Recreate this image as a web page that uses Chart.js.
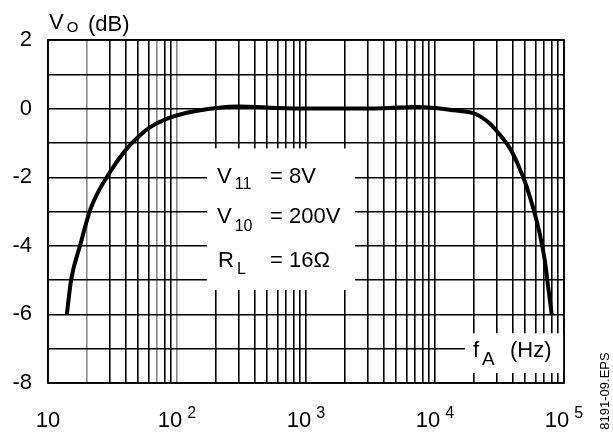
<!DOCTYPE html>
<html>
<head>
<meta charset="utf-8">
<script src="https://cdn.jsdelivr.net/npm/chart.js@4/dist/chart.umd.min.js"></script>
<style>
html, body { margin: 0; padding: 0; background: #fff; }
canvas { display: block; }
</style>
</head>
<body>
<canvas id="chart" width="613" height="436"></canvas>
<script>
// frequency response
const freqHz = [14, 15.1, 17.7, 21.5, 30, 41, 52, 62, 83, 119, 203, 308, 500,
                1000, 2000, 4000, 7000, 10000, 13900, 20400, 26700, 32900, 38100,
                44200, 51400, 57800, 65200, 71200, 75600, 80300];
const gainDb = [-6, -5, -4, -2.9, -1.87, -1.16, -0.77, -0.54, -0.30, -0.12, 0.02, 0.06, 0.03,
                0, 0, 0.01, 0.05, 0.02, -0.05, -0.15, -0.44, -0.83, -1.16,
                -1.65, -2.28, -2.91, -3.69, -4.46, -5.24, -6];

// grid and labels
const xGrid = [10, 20, 30, 40, 50, 60, 70, 80, 90,
               100, 200, 300, 400, 500, 600, 700, 800, 900,
               1000, 2000, 3000, 4000, 5000, 6000, 7000, 8000, 9000,
               10000, 20000, 30000, 40000, 50000, 60000, 70000, 80000, 90000, 100000];
const xGreyLines = [20, 70, 100];
const xLabelValues = [10, 100, 1000, 10000, 100000];
const xLabelPowers = ['', '2', '3', '4', '5'];
const yTickLabels = ['-8', '-6', '-4', '-2', '0', '2'];

const FONT = '"Liberation Sans", Arial, sans-serif';

function subText(ctx, x, base, main, sub, size, subSize, dy) {
    ctx.font = size + 'px ' + FONT;
    ctx.fillText(main, x, base);
    const w = ctx.measureText(main).width;
    ctx.font = subSize + 'px ' + FONT;
    ctx.fillText(sub, x + w + 3, base + dy);
}

const overlay = {
    id: 'overlay',
    beforeDatasetsDraw(chart) {
        const { ctx, chartArea: a, scales: { x, y } } = chart;
        ctx.save();
        ctx.fillStyle = '#fff';
        // white boxes behind the parameters and the axis name
        [[171, 2400, -1.16, -5.29], [17100, 100000, -6.55, -7.71]].forEach(([f0, f1, d0, d1]) => {
            const l = x.getPixelForValue(f0), r = x.getPixelForValue(f1);
            const t = y.getPixelForValue(d0), b = y.getPixelForValue(d1);
            ctx.fillRect(l, t, r - l, b - t);
        });
        ctx.strokeStyle = '#000';
        ctx.lineWidth = 1.8;
        ctx.strokeRect(a.left, a.top, a.width, a.height);
        ctx.restore();
    },
    afterDraw(chart) {
        const { ctx, scales: { x } } = chart;
        ctx.save();
        ctx.fillStyle = '#000';
        ctx.textBaseline = 'alphabetic';
        ctx.textAlign = 'left';

        // x tick labels with exponents
        xLabelValues.forEach((v, i) => {
            const px = x.getPixelForValue(v);
            ctx.font = '22px ' + FONT;
            const w1 = ctx.measureText('10').width;
            let w2 = 0;
            if (xLabelPowers[i]) {
                ctx.font = '16px ' + FONT;
                w2 = ctx.measureText(xLabelPowers[i]).width + 5;
            }
            const x0 = px - (w1 + w2) / 2;
            ctx.font = '22px ' + FONT;
            ctx.fillText('10', x0, 427);
            if (xLabelPowers[i]) {
                ctx.font = '16px ' + FONT;
                ctx.fillText(xLabelPowers[i], x0 + w1 + 5, 418);
            }
        });

        // axis names
        subText(ctx, 49, 29, 'V', 'O', 22, 15, 3);
        ctx.font = '22px ' + FONT;
        ctx.fillText('(dB)', 88, 31);
        subText(ctx, 473, 357, 'f', 'A', 22, 19, 8);
        ctx.font = '22px ' + FONT;
        ctx.fillText('(Hz)', 510, 357);

        // parameters
        subText(ctx, 217, 183, 'V', '11', 22, 16, 6);
        ctx.font = '22px ' + FONT;
        ctx.fillText('= 8V', 270, 183);
        subText(ctx, 217, 223, 'V', '10', 22, 16, 8);
        ctx.font = '22px ' + FONT;
        ctx.fillText('= 200V', 270, 223);
        subText(ctx, 218, 267, 'R', 'L', 22, 16, 7);
        ctx.font = '22px ' + FONT;
        ctx.fillText('= 16\u03A9', 270, 267);

        // figure id
        ctx.translate(605, 391);
        ctx.rotate(-Math.PI / 2);
        ctx.font = '13px ' + FONT;
        ctx.textAlign = 'center';
        ctx.textBaseline = 'middle';
        ctx.fillText('8191-09.EPS', 0, 0);
        ctx.restore();
    }
};

new Chart(document.getElementById('chart').getContext('2d'), {
    type: 'line',
    data: {
        datasets: [{
            data: freqHz.map((f, i) => ({ x: f, y: gainDb[i] })),
            borderColor: '#000',
            borderWidth: 4,
            pointRadius: 0,
            fill: false,
            cubicInterpolationMode: 'monotone'
        }]
    },
    options: {
        responsive: false,
        animation: false,
        events: [],
        layout: { padding: { left: 0, top: 40, right: 49, bottom: 0 } },
        plugins: { legend: { display: false }, tooltip: { enabled: false } },
        scales: {
            x: {
                type: 'logarithmic',
                min: 10,
                max: 100000,
                afterBuildTicks: s => { s.ticks = xGrid.map(v => ({ value: v })); },
                afterFit: s => { s.height = 53; },
                ticks: { display: false },
                border: { display: false },
                grid: {
                    drawTicks: false,
                    lineWidth: 1.6,
                    color: c => (c.tick && xGreyLines.includes(c.tick.value)) ? '#8a8a8a' : '#000'
                }
            },
            y: {
                min: -8,
                max: 2,
                afterFit: s => { s.width = 48; },
                ticks: {
                    stepSize: 1,
                    padding: 16,
                    color: '#000',
                    font: { family: FONT, size: 22 },
                    callback: v => yTickLabels.includes(String(v)) ? String(v) : ''
                },
                border: { display: false },
                grid: { drawTicks: false, lineWidth: 1.4, color: '#000' }
            }
        }
    },
    plugins: [overlay]
});
</script>
</body>
</html>
